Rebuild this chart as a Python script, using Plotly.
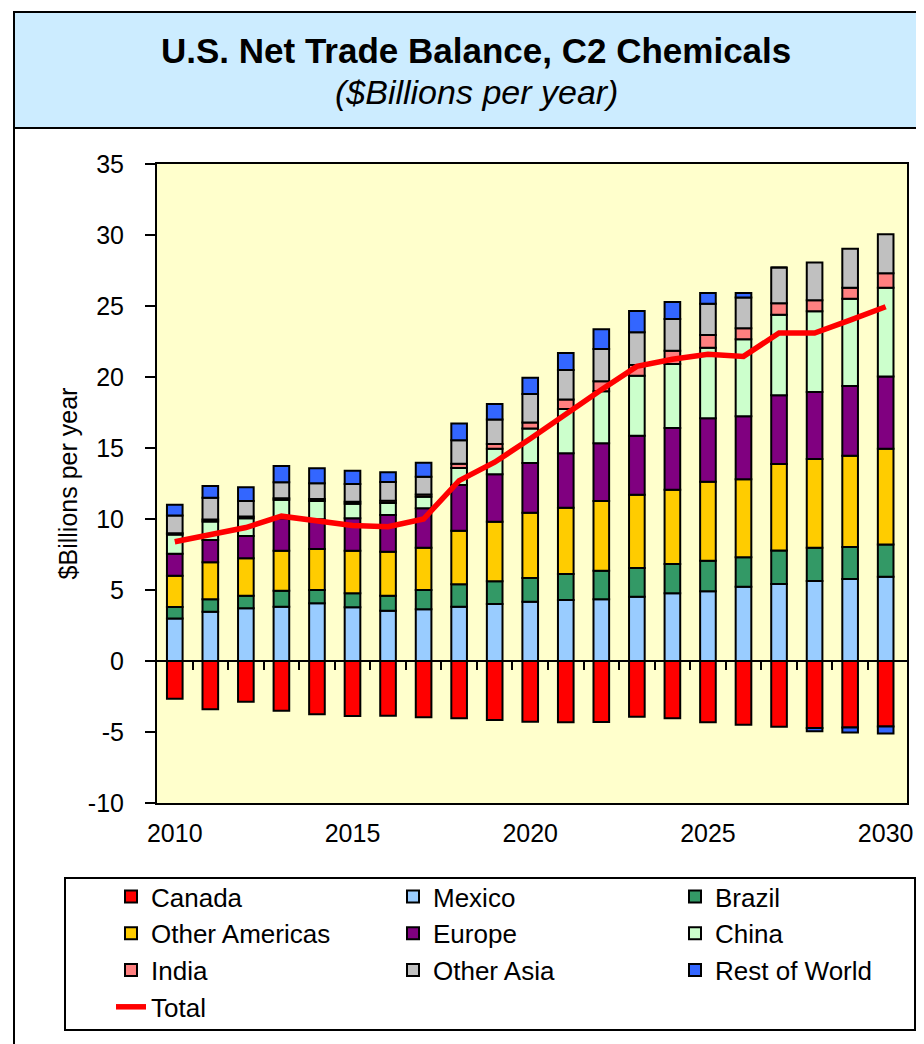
import plotly.graph_objects as go

years = list(range(2010, 2031))

canada = [-2.65, -3.40, -2.87, -3.50, -3.75, -3.87, -3.85, -3.96, -4.04, -4.15, -4.27,
          -4.32, -4.30, -3.92, -4.04, -4.32, -4.49, -4.63, -4.72, -4.69, -4.61]
mexico = [3.00, 3.47, 3.71, 3.82, 4.06, 3.78, 3.54, 3.64, 3.82, 4.01, 4.18,
          4.30, 4.35, 4.53, 4.77, 4.92, 5.23, 5.42, 5.63, 5.77, 5.94]
brazil = [0.80, 0.88, 0.89, 1.13, 0.94, 0.99, 1.06, 1.36, 1.58, 1.60, 1.66,
          1.83, 2.01, 2.02, 2.06, 2.14, 2.07, 2.36, 2.34, 2.25, 2.27]
other_americas = [2.20, 2.60, 2.63, 2.82, 2.89, 3.00, 3.10, 2.98, 3.78, 4.20, 4.60,
                  4.67, 4.91, 5.15, 5.23, 5.57, 5.50, 6.09, 6.26, 6.44, 6.73]
europe = [1.55, 1.57, 1.57, 2.28, 2.10, 2.28, 2.58, 2.77, 3.21, 3.34, 3.50,
          3.83, 4.06, 4.17, 4.35, 4.46, 4.43, 4.84, 4.72, 4.90, 5.09]
china = [1.35, 1.30, 1.25, 1.30, 1.27, 1.02, 0.85, 0.82, 1.20, 1.80, 2.44,
         3.12, 3.67, 4.22, 4.51, 4.97, 5.42, 5.68, 5.68, 6.15, 6.25]
india = [0.10, 0.15, 0.12, 0.11, 0.15, 0.15, 0.15, 0.15, 0.30, 0.33, 0.42,
         0.67, 0.70, 0.76, 0.93, 0.90, 0.79, 0.81, 0.77, 0.77, 1.03]
other_asia = [1.25, 1.53, 1.10, 1.12, 1.10, 1.24, 1.32, 1.26, 1.65, 1.72, 2.00,
              2.07, 2.27, 2.30, 2.23, 2.20, 2.15, 2.51, 2.67, 2.75, 2.74]
rest_of_world = [0.75, 0.82, 0.96, 1.15, 1.06, 0.94, 0.70, 0.98, 1.18, 1.10, 1.14,
                 1.20, 1.40, 1.50, 1.20, 0.76, 0.33, 0.00, -0.22, -0.35, -0.50]
total = [8.40, 8.90, 9.40, 10.20, 9.85, 9.55, 9.45, 10.00, 12.70, 14.00, 15.65,
         17.40, 19.10, 20.75, 21.25, 21.60, 21.45, 23.10, 23.10, 24.00, 24.95]

series = [
    ("Canada", canada, "#FF0000"),
    ("Mexico", mexico, "#99CCFF"),
    ("Brazil", brazil, "#339966"),
    ("Other Americas", other_americas, "#FFCC00"),
    ("Europe", europe, "#800080"),
    ("China", china, "#CCFFCC"),
    ("India", india, "#FF8080"),
    ("Other Asia", other_asia, "#C0C0C0"),
    ("Rest of World", rest_of_world, "#3366FF"),
]

y_ticks = [35, 30, 25, 20, 15, 10, 5, 0, -5, -10]
x_ticks = [2010, 2015, 2020, 2025, 2030]
minor_ticks = [y + 0.5 for y in years[:-1]]

FONT = "Liberation Sans, Arial, sans-serif"

fig = go.Figure()
for name, vals, col in series:
    fig.add_trace(go.Bar(
        x=years, y=vals, name=name,
        marker=dict(color=col, line=dict(color="black", width=2)),
    ))

fig.add_trace(go.Scatter(
    x=years, y=total, name="Total", mode="lines",
    line=dict(color="#FF0000", width=5.5),
    xaxis="x2",
))

# page offset of the figure (default body margin)
OFF = 8
W, H = 924, 1044
# plot area in page pixels
PL, PR, PT, PB = 157, 907, 164, 803
L = PL - OFF
T = PT - OFF
R = W - (PR - OFF)
B = H - (PB - OFF)
pw, ph = PR - PL, PB - PT


def px(x):
    return (x - PL) / pw


def py(y):
    return (PB - y) / ph


shapes = [
    dict(type="rect", xref="paper", yref="paper",
         x0=px(14), x1=px(960), y0=py(128), y1=py(12),
         fillcolor="#CCECFF", line=dict(color="black", width=2), layer="below"),
    dict(type="line", xref="paper", yref="paper",
         x0=px(14), x1=px(14), y0=py(12), y1=py(1080),
         line=dict(color="black", width=2)),
    dict(type="rect", xref="paper", yref="paper",
         x0=px(65), x1=px(915), y0=py(1030), y1=py(878),
         line=dict(color="black", width=2)),
]

annotations = [
    dict(text="<b>U.S. Net Trade Balance, C2 Chemicals</b>", xref="paper", yref="paper",
         x=px(476), y=py(50), showarrow=False, xanchor="center", yanchor="middle",
         font=dict(family=FONT, size=35, color="black")),
    dict(text="<i>($Billions per year)</i>", xref="paper", yref="paper",
         x=px(476), y=py(92), showarrow=False, xanchor="center", yanchor="middle",
         font=dict(family=FONT, size=34, color="black")),
]

fig.update_layout(
    width=W, height=H,
    margin=dict(l=L, r=R, t=T, b=B, autoexpand=False),
    paper_bgcolor="white",
    plot_bgcolor="#FFFFCC",
    barmode="relative",
    bargap=0.56,
    showlegend=True,
    legend=dict(
        orientation="h",
        x=px(111), y=py(873), xanchor="left", yanchor="top",
        entrywidth=237, entrywidthmode="pixels",
        font=dict(family=FONT, size=26, color="black"),
        bgcolor="rgba(0,0,0,0)",
        traceorder="normal",
    ),
    xaxis=dict(
        range=[2009.5, 2030.6],
        tickmode="array", tickvals=x_ticks, ticktext=[str(v) for v in x_ticks],
        ticks="", showgrid=False, zeroline=False, ticklabelstandoff=7,
        showline=True, linecolor="black", linewidth=2, mirror=True,
        tickfont=dict(family=FONT, size=25, color="black"),
    ),
    xaxis2=dict(
        range=[2009.5, 2030.6], overlaying="x", anchor="free",
        position=10 / 45, side="bottom",
        tickmode="array", tickvals=minor_ticks,
        ticks="outside", ticklen=8, tickwidth=2, tickcolor="black",
        showticklabels=False, showgrid=False, zeroline=False,
        showline=True, linecolor="black", linewidth=2,
    ),
    yaxis=dict(
        range=[-10, 35],
        tickmode="array", tickvals=y_ticks, ticktext=[str(v) for v in y_ticks],
        ticks="outside", ticklen=10, tickwidth=2, tickcolor="black",
        ticklabelstandoff=16,
        showgrid=False, zeroline=False,
        showline=True, linecolor="black", linewidth=2, mirror=True,
        tickfont=dict(family=FONT, size=25, color="black"),
        title=dict(text="$Billions per year", standoff=3,
                   font=dict(family=FONT, size=25, color="black")),
    ),
    shapes=shapes,
    annotations=annotations,
)

fig.write_html("out.html")
